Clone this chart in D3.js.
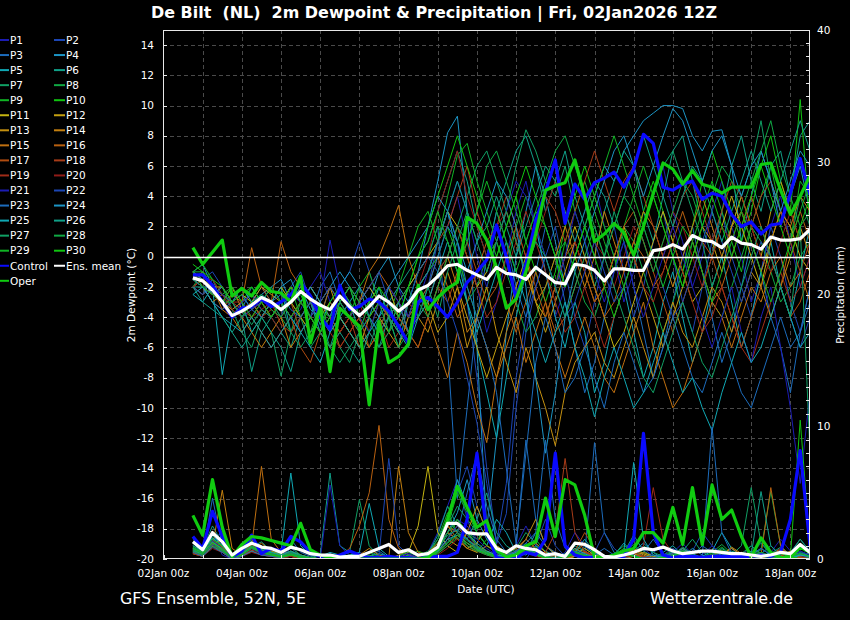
<!DOCTYPE html>
<html><head><meta charset="utf-8">
<script src="https://cdn.jsdelivr.net/npm/d3@7"></script>
<style>
body{margin:0;background:#000;}
svg{display:block;background:#000;}
text{font-family:"DejaVu Sans",sans-serif;fill:#fff;white-space:pre;}
</style>
</head><body>
<svg id="chart" width="850" height="620"></svg>
<script>
// ---------------- DATA ----------------
const titleText = "De Bilt  (NL)  2m Dewpoint & Precipitation | Fri, 02Jan2026 12Z";
const firstTime = "2026-01-02T18:00:00Z";
const stepHours = 6;
const xDomain = ["2026-01-02T00:00:00Z", "2026-01-18T12:00:00Z"];
const xTickDates = ["2026-01-02","2026-01-04","2026-01-06","2026-01-08","2026-01-10","2026-01-12","2026-01-14","2026-01-16","2026-01-18"];
const xTickLabels = ["02Jan 00z","04Jan 00z","06Jan 00z","08Jan 00z","10Jan 00z","12Jan 00z","14Jan 00z","16Jan 00z","18Jan 00z"];
const leftTicks = [-20,-18,-16,-14,-12,-10,-8,-6,-4,-2,0,2,4,6,8,10,12,14];
const rightTicks = [0,10,20,30,40];

const memberNames = ["P1","P2","P3","P4","P5","P6","P7","P8","P9","P10","P11","P12","P13","P14","P15","P16","P17","P18","P19","P20","P21","P22","P23","P24","P25","P26","P27","P28","P29","P30"];
const memberColors = ["#1c1cb4","#1c46b4","#1c6cbc","#1c94c4","#10a8b4","#10a088","#10a064","#10a844","#10b424","#10c410",
  "#c4b410","#c4a010","#c49010","#c48010","#c07010","#b86010","#b04c10","#a83c18","#a02c18","#901c18",
  "#1c1cb4","#1c46b4","#1c6cbc","#1c94c4","#10a8b4","#10a088","#10a064","#10a844","#10b424","#10c410"];

const controlDewpoint = [-1.2,-1.2,-1.9,-3.0,-4.0,-3.4,-3.3,-2.8, -3.3,-3.0,-2.5,-1.7,-2.6,-4.0,-4.8,-1.9, -3.5,-3.3,-2.8,-3.0,-3.6,-4.6,-5.7,-3.0, -2.7,-3.3,-4.0,-3.0,-1.7,-1.0,-0.2,2.1, 0.0,-2.8,-0.5,2.4,4.3,6.4,2.2,4.8, 3.8,4.9,5.2,5.6,4.6,5.8,8.1,7.5, 4.6,4.4,4.8,5.0,3.8,4.2,4.0,2.8, 2.0,2.3,1.5,2.1,2.2,4.2,6.5,4.1];
const operDewpoint = [0.6,-0.5,0.3,1.1,-2.6,-2.1,-2.6,-1.7, -2.3,-2.4,-3.0,-1.3,-5.7,-3.3,-7.6,-3.4, -4.0,-4.6,-9.8,-4.3,-7.0,-6.6,-5.8,-1.9, -3.5,-2.7,-2.1,-1.7,2.6,2.2,1.1,-0.7, -3.4,-2.8,-1.0,1.5,4.4,4.7,4.9,6.4, 4.0,1.0,1.5,2.2,1.6,0.1,2.0,4.2, 6.2,5.8,4.8,5.7,4.8,4.6,4.2,4.6, 4.6,4.6,6.1,6.2,4.4,2.8,4.0,5.4];
const meanDewpoint = [-1.4,-1.6,-2.2,-3.0,-3.9,-3.6,-3.2,-2.7, -3.0,-3.5,-3.0,-2.3,-2.8,-3.2,-3.5,-2.6, -3.3,-3.9,-3.3,-2.6,-3.0,-3.6,-3.1,-2.2, -1.9,-1.3,-0.6,-0.5,-0.9,-1.2,-1.5,-0.7, -1.1,-1.2,-1.5,-0.7,-1.2,-1.7,-1.8,-0.5, -0.6,-0.9,-1.6,-0.8,-0.8,-0.9,-0.9,0.4, 0.5,0.8,0.5,1.4,1.1,1.0,0.6,1.3, 0.9,0.8,0.5,1.3,1.1,1.1,1.2,1.8];

const controlPrecip = [1.7,0.8,3.6,1.7,0.15,0.6,1.8,0.4, 0.8,0.6,1.7,1.3,0.5,0.2,0.1,0.3, 0.6,0.3,0.1,0.1,0.2,0.1,0.1,0, 0.1,0.2,0.2,0.5,3.0,8.0,2.0,0.1, 0,0.1,0.5,0.3,1.5,8.0,1.0,0.3, 0.1,0.1,0.1,0.1,0.2,1.5,9.5,2.0, 0.3,0.1,0.2,0.2,0.1,0.2,0.2,0.2, 0.2,0.2,0.3,0.2,0.5,3.0,8.2,1.0];
const operPrecip = [3.3,1.8,6.0,2.4,0.15,1.1,1.7,1.6, 1.4,1.2,1.0,2.7,0.7,0.3,0.1,0, 0,0,0,0,0,0,0,0, 0.1,0.8,3.0,5.5,3.9,2.4,2.9,0.7, 0.15,0.3,1.0,1.3,4.6,1.7,6.0,5.6, 3.3,0.15,0.1,0.3,0.6,0.8,2.0,2.0, 1.2,3.9,1.1,5.4,1.1,5.6,3.0,3.7, 1.7,0.15,1.6,0.5,0.1,0.1,0.9,0.5];
const meanPrecip = [1.3,0.7,2.0,1.3,0.3,0.8,1.2,0.9, 0.8,0.5,0.9,0.7,0.4,0.3,0.3,0.15, 0.2,0.2,0.5,0.8,1.1,0.5,0.7,0.3, 0.4,0.9,2.7,2.7,2.0,1.9,1.9,0.8, 0.5,1.0,0.8,0.7,0.3,0.4,0.2,1.2, 1.1,0.7,0.2,0.15,0.3,0.5,0.8,0.7, 0.9,0.6,0.4,0.5,0.6,0.6,0.5,0.4, 0.4,0.3,0.2,0.3,0.5,0.4,1.1,0.5];

const pertDewpoint = [
[-1.5,-1,-2,-2.5,-3.5,-3,-2.5,-3, -2,-3,-4,-3.5,-2,-1,-3,-4, -3,-2,-4,-5,-3,-2,-4,-3, -1,0,2,4,1,-2,-5,-3, 0,3,5,2,-1,-4,-2,1, 3,5,2,0,-3,-1,2,4, 6,3,1,-2,0,3,5,2, 0,-3,-1,2,4,1,-2,0],
[-2,-1.5,-1,-2,-3,-4,-3,-2, -3,-4,-2,-1,-3,-5,-4,-2, -1,1,-1,-3,-2,-4,-5,-3, -2,1,3,1,-3,-8,-14,-19, -15,-8,-4,-2,0,2,-1,-4, -6,-3,0,2,-1,-4,-2,1, 3,0,-3,-5,-2,1,3,0, -2,-4,-1,2,0,-3,-5,-2],
[-2,-2.5,-1.5,-3,-4,-3.5,-2,-3, -4,-3,-2,-3,-4,-2,-1,-3, -4,-3,-2,-3,-5,-4,-2,-1, 0,2,-6,-16,-10,-4,0,3, 1,-2,-4,-1,2,0,-3,-6, -9,-7,-4,-1,1,-2,-5,-8, -6,-3,0,2,-1,-4,-7,-5, -2,1,-1,-4,-6,-9,-5,-2],
[-1,-0.5,-2,-2.5,-3,-2.5,-3.5,-2.5, -2,-1.5,-3,-2,-3.5,-4,-2,-1, -2,-4,-3,-1,0,-2,-3,-1, 2,5,8.2,9.3,3,-6,-18,-12, -5,0,3,6,4,1,-2,0, 2,4,6,5,7,8,9,9.5, 10,10,9.8,8,7,8.3,8.4,6, 1,4,7,5,2,4,6,3],
[-2.5,-3,-2,-7.8,-4,-3,-5,-4, -3,-2,-5,-4,-3,-4.5,-3,-2, -3,-5,-4,-2,-4,-6,-3,-2, -1,1,3,0,-3,-6,-9,-12, -8,-4,-1,2,-1,-4,-6,-3, -5,-9,-7,-4,-2,-5,-8,-6, -3,-1,-4,-7,-5,-2,0,-3, -6,-4,-1,1,-2,-4,-1,2],
[-2,-2,-3,-4,-5,-4,-7.6,-5, -4,-5,-6,-4,-3,-5,-6,-4, -3,-2,-4,-5,-3,-2,-1,0, 1,3,5,7,5,2,0,3, 5,7,8,6,3,5,7,4, 2,0,3,5,7,6,3,1, 4,7,8,5,2,0,3,6, 8,5,3,6,7,4,8,9],
[-1.5,-2,-2.5,-3,-3.5,-5,-6,-4, -5,-7.9,-5,-4,-6,-5,-4,-6, -7,-5,-6,-4,-5,-3,-4,-2, -3,-1,0,2,4,6,7,5, 3,6,8.4,7,5,4,6,3, 1,-2,0,3,1,-1,2,4, 6,7,5,3,1,-2,0,2, 4,6,9,5,3,1,4,2],
[-2,-1,-2.5,-2,-3.5,-4,-3,-4, -3,-4,-5,-3,-2,-3,-5,-4, -5,-6,-4,-3,-4,-5,-3,-1, 0,2,1,-1,-3,-2,0,1, -1,-3,-5,-4,-2,0,1,-1, -3,-4,-2,0,2,1,-1,-3, -5,-3,-1,1,-1,-3,-4,-2, 0,2,1,-1,-3,-2,0,1],
[-1,-0.5,-1.5,-2.5,-2,-3,-2,-3, -4,-3,-2,-4,-5,-3,-2,-3, -4,-2,-1,-3,-4,-2,0,2, 3,1,4,6.7,7.5,5,3,1, -1,2,4,2,0,-2,1,3, 5,3,1,-1,2,4,6,4, 2,0,-2,1,3,5,3,1, -1,2,4,6,3,1,5,4],
[-1.5,-1,-2,-3,-2.5,-2,-3,-4, -3,-2,-3,-4,-3,-4,-5,-3, -2,-4,-5,-3,-2,-4,-3,-2, -1,0,2,0,-2,-4,-2,0, 2,4,1,-1,-3,-1,2,4, 6,4,2,0,-2,0,3,5, 3,1,-1,2,5,7,5,3, 1,3,6,8,5,3,10.4,2],
[-1,-1.5,-2,-2,-3,-2.5,-3,-2, -2.5,-3,-4,-3,-2,-3,-4,-5, -4,-3,-2,-3,-4,-3,-2,-1, 0,1,3,2,0,-2,-1,1, 3,1,-1,-3,-4,-2,0,2, 0,-2,-4,-6,-5,-3,-1,1, 3,1,-1,-3,-2,0,2,4, 2,0,-2,1,3,2,0,-1],
[-1.5,-2,-2.5,-3,-2,-3.5,-3,-4, -3,-2,-3,-4,-5,-4,-3,-4, -5,-4,-3,-4,-5,-6,-4,-2, -3,-5,-4,-2,-4,-6,-8,-6, -4,-2,0,-3,-5,-3,-1,1, -1,-3,-2,0,2,0,-2,-4, -6,-4,-2,0,2,1,-1,2, 4,2,0,3,5,3,1,2],
[-2,-1.5,-2,-3,-3.5,-3,-2.5,-3.5, -4,-3,-2,-3,-4,-3,-2,-4, -5,-6,-4,-3,-2,-4,-5,-4, -5,-3,-1,-3,-6,-4,-2,-5, -7,-9,-6,-8,-10,-12.5,-9,-7, -6,-5,-7,-8,-6,-4,-6,-8, -5,-3,-5,-6,-4,-2,-3,-5, -3,-1,-2,-4,-2,0,2,0],
[-1,-2,-3,-2.5,-3,-4,-5,-6, -5,-4,-6,-5,-4,-5,-6,-5, -4,-5,-6,-5,-4,-3,-5,-6, -4,-2,0,-2,-5,-4,-6,-8, -5,-3,-1,-3,-2,0,2,0, -2,0,3,1,-1,1,3,2, 0,-2,0,2,4,2,0,2, 3,1,-1,1,3,2,4,3],
[-2,-2.5,-2,-3.5,-4,-5,-4,-3, -4,-3,-2,-3,-4,-5,-4,-3, -2,-3,-1,0,1.6,3.4,0,-2, -4,-6,-8,-5,-7,-10,-12.3,-8, -6,-4,-7,-5,-3,-6,-8,-6, -4,-6,-8,-9,-7,-5,-3,-6, -8,-10,-9,-7,-5,-3,-4,-6, -4,-2,-3,-1,0,-2,-1,-3],
[-1.5,-2,-3,-3.5,-2.5,-3,0.6,-2, -3,1.0,-1,-2,-3,-4,-2,-3, -4,-3,-2,-1,-2,-3,-4,-3, -2,0,-2,-4,-3,-1,1,-1, -3,-5,-3,-1,-3,-5,-4,-2, 0,-2,-4,-3,-1,1,0,-2, -1,1,3,1,-1,-3,-2,0, 2,4,2,0,-2,1,3,1],
[-2,-1.5,-2.5,-3,-4,-3.5,-4,-5, -6,-5,-4,-6,-7,-5,-4,-6, -5,-4,-6,-5,-3,-4,-5,-6, -4,-2,-3,-1,1,-1,-3,-2, 0,2,0,-2,-4,-2,0,1, -1,-3,-2,0,2,3,1,-1, -3,-5,-3,-1,1,0,-2,-4, -6,-4,-2,0,-2,-4,-3,-1],
[-1.5,-1,-2,-2.5,-3,-3.5,-3,-4, -3.5,-4,-3,-5,-4,-3,-4,-5, -4,-6,-5,-3,-4,-5,-3,-2, -1,1,2,4,6,3,1,2, 4,2,0,2,4,3,1,3, 5,7,5,3,5,6,4,2, 0,2,4,5,3,1,3,5, 4,2,4,5,3,1,-1,1],
[-1,-1.5,-2.5,-2,-3,-3,-4,-3.5, -3,-4.5,-5,-4,-3,-4,-5,-6, -5,-4,-3,-4,-6,-5,-3,-4, -3,-1,0,2,0,-2,-4,-3, -1,1,3,1,-1,-3,-5,-4, -2,-4,-6,-4,-2,0,-2,-3, -1,1,-1,-3,-5,-4,-2,-4, -6,-7,-5,-3,-1,-3,-2,0],
[-2,-1.5,-1.5,-2.5,-3.5,-4,-3.5,-3, -4,-5,-4,-3,-4,-5,-6,-5, -4,-3,-5,-6,-5,-4,-3,-2, 0,3,5,7,4,2,0,2, 3,1,-1,1,3,5,3,1, -1,1,0,-2,0,2,1,-1, 1,3,2,0,-2,0,2,1, 3,2,0,-1,1,3,1,2],
[-1.5,-2,-2,-3,-4,-3,-2.5,-3.5, -4,-3,-2.5,-3,-4,-3,1.1,-2, -3,-4,-5,-3,-2,-3,-4,-2, -1,1,3,5,3,0,-2,1, 3,5,4,2,0,-2,0,3, 1,-1,-3,-1,1,-2,-4,-2, 0,2,0,-2,-4,-6,-4,-2, -5,-7,-4,-2,-6,-10,-15,-9],
[-2,-2.5,-2,-2.5,-3,-4,-3.5,-3, -2,-3,-4,-5,-4,-3,-2,-3, -4,-3,-2,-1,-3,-4,-3,-1, 0,-1,-3,-5,-8,-11,-15,-19, -17,-10,-5,-2,0,-2,-4,-3, -1,1,-1,-3,-2,0,2,0, -2,-4,-3,-1,1,3,1,-1, -3,-1,1,0,-2,-4,-6,-4],
[-1.5,-2,-3,-3.5,-3,-2.5,-3.5,-4, -3,-2.5,-3.5,-4,-3,-4,-5,-3, -2,-3,-4,-5,-4,-3,-5,-4, -2,0,2,1,-2,-4,-6,-9, -14,-19,-13,-7,-4,-6,-9,-8, -6,-8,-10,-7,-5,-7,-9,-8, -6,-4,-6,-8,-9,-7,-5,-7, -9,-10,-8,-6,-4,-6,-5,-3],
[-1,-1.5,-2.5,-2,-3,-2,-3,-2.5, -3,-2,-1.5,-3,-2,-3,-4,-2, -1,-2,-3,-4,-2,-1,0,1, 2,4,3,1,-1,1,3,5, 4,2,-2,-8,-13,-9,-4,-1, 1,3,5,7,8,6,4,6, 8,9.8,9,7,5,7,8,6, 4,6,7,5,3,5,7,6],
[-2.5,-2,-3,-4,-4.5,-5,-4,-5, -6,-5,-4,-5,-6,-7,-5,-4, -5,-6,-5,-4,-3,-5,-6,-4, -3,-1,1,-1,-3,-5,-3,-1, 1,-1,-3,-5,-7,-5,-3,-6, -8,-10.6,-8,-6,-8,-10,-9,-7, -5,-7,-9,-8,-10,-11.5,-9,-7, -5,-7,-6,-4,-2,-4,-6,-5],
[-2,-3,-3.5,-4,-5,-6,-5,-4, -5,-6,-7.6,-5,-4,-5,-6,-5, -6,-7,-5,-6,-4,-5,-3,-2, -1,1,3,5,3,1,2,4, 2,0,2,4,6,5,3,1, 3,5,4,2,4,6,8,6, 4,2,4,6,5,3,1,3, 5,7,5,3,5,7,9,7],
[-1.5,-2,-2,-3,-4,-3.5,-4.5,-3.5, -4,-3,-5,-6,-5,-4,-6,-7, -6,-5,-4,-6,-5,-3,-2,-4, -2,-4,-1,1,3,1,-1,1, 3,1,-1,1,0,-2,-4,-2, 0,2,0,-2,-4,-6,-8,-9, -7,-5,-3,-5,-7,-8,-6,-4, -2,0,2,0,-2,-4,2,-13],
[-1,-1,-2,-3,-3,-4,-3,-2.5, -3.5,-4,-3,-2.5,-4,-5,-4,-3, -4,-5,-3,-2,-4,-6,-5,-3, -4,-2,0,2,1,3,6,7, 5,3,1,3,5,7,8,6, 4,2,0,2,4,3,1,-1, 1,3,5,4,2,4,6,5, 3,5,7,9,6,4,2,3],
[-1,-2,-2.5,-3,-2,-3,-4,-3, -2,-3,-4,-3,-2.5,-3.5,-4,-3, -2,-3,-4,-3,-5,-4,-2,0, 1,3,1,-1,1,3,5,3, 1,-1,1,3,2,0,-2,0, 2,4,6,8,6,4,2,0, -2,0,2,1,-1,-3,-1,1, 3,1,-1,-3,-1,1,3,5],
[-0.5,-1,-1.5,-2,-3,-2.5,-2,-3, -4,-3,-2,-3,-4,-5,-3,-2, -3,-4,-3,-2,-3,-4,-2,0, 2,4,6,8,6,4,2,0, 2,4,6,4,2,0,-2,0, 2,0,-2,-4,-2,0,2,4, 2,0,-2,0,2,4,2,0, 2,4,6,4,2,0,2,4]
];

const pertPrecip = [
[0.5,1,2,0.3,0,0.5,1,0.4, 0.2,0.6,0.3,0.1,0,0,0.2,0, 0,0,0.3,0,0,0.2,0,0, 0.5,2,4,6,3,1,0.5,0, 0.2,1,2.5,1,0.3,0,0.5,2, 1,0.2,0,0,0.3,1.5,0.8,0.2, 0,0.5,1.2,0.3,0,0,0.2,0.8, 0.3,0,0,0.5,1.5,0.6,0.2,0],
[1,0.5,1.5,2,0.2,0.3,0.8,0.5, 0.4,0.2,0.8,0.3,0.1,0,0,0, 0.2,0.5,0.2,0,0,0,0.3,0, 0,1,3,5,7,4,2,1, 0.5,0.2,0,1,3,1,0.2,0, 0,0.5,2,0.8,0.2,0,0,0.5, 1,0.3,0,0.6,2,1,0.2,0, 0,0.4,1.2,0.5,0,0,0.3,0.8],
[0.8,0.2,4.6,1,0,0.5,1.2,0.6, 0.3,0.8,1.5,0.5,0.2,0,0.4,0.1, 0,0,0.2,0.6,0.1,0,0,0, 0.5,1.5,3,2,5,8,4,1.5, 0.5,1,9,3,1,0.5,0.2,0, 0.3,8.8,2,0.5,0,0,0.5,1.5, 0.4,0,0,0.3,1,0.5,0,0, 0.2,1,0.4,0,0,0.5,1.5,0.6],
[1.2,0.5,1,1.8,0.3,0.2,0.6,1, 0.5,0.3,0.4,0.2,0,0,0,0, 0,0,0,0,0,0.1,0,0, 0.2,0.8,2,3.5,6,3,1.5,0.5, 0,0,0.5,2,1,0.3,0,0.2, 1,0.4,0,0,0.2,0.6,1.2,0.5, 0,0,0.2,0.8,0.3,0,0,0, 0.2,0.6,0.1,0,0,0,0.4,0.2],
[0.6,0.3,1.8,1,0.1,0.8,1.5,0.9, 0.4,0.5,6.5,1,0.3,0.2,0.5,0.3, 0.1,0,0.2,0.4,0.2,0,0.3,0.1, 0.5,1,3,6,4,2,1,3, 2,0.5,0.3,1,0.6,0.2,0,0.5, 1.5,0.5,0,0.3,1.2,0.4,0,0, 0.5,1,0.3,0,0.2,0.6,2,0.8, 0.2,0,0.4,1,0.3,0,0.2,0.5],
[1.5,0.8,2.5,1.2,0.2,0.4,0.9,1.3, 0.6,0.3,0.5,0.2,0.1,0.3,6.5,1, 0.5,0.3,0.1,0,0,0.2,0.5,0.2, 0.4,1.8,4,2.5,1.5,3,5,2, 1,0.5,1.5,0.8,0.3,0.1,0.4,1, 0.6,0.2,0.1,0,0.5,1.8,0.6,0.2, 0,0.3,0.9,0.4,0.1,0,0.2,0.6, 0.3,0,0,0.4,0.9,0.3,0,0.1],
[0.8,0.4,1.2,0.6,0,0.3,1.1,0.7, 0.5,0.2,0.3,0.1,0,0,0.3,0.2, 0.5,4.5,1,0.2,0,0,0,0.2, 0.6,1.2,2.5,4,3,2,1,0.5, 0.3,0.8,2,1.2,0.5,0.2,0.1,0, 0.2,0.5,0.3,0,0,0.4,1,0.5, 0.2,0,0.6,1.5,0.5,0.2,0,0.3, 1,5.4,1.2,0.3,0,0.5,1.2,0.4],
[1,0.6,2,1.4,0.3,0.6,1.4,0.8, 0.6,0.4,0.9,0.3,0.1,0,0.1,0, 0,0.1,0.3,0.1,0,0,0,0, 0.2,0.6,1.5,3,2,1.5,2,1, 0.5,0.3,0.8,1.5,0.5,0.2,0,0.3, 0.8,0.3,0.1,0.4,1,0.6,0.2,0, 0.3,0.6,0.2,0,0.1,0.5,1.1,0.4, 0.1,0.2,0.7,5.1,1,0.2,0,0.3],
[0.5,0.2,1.5,1,0.2,0.3,1,0.5, 0.4,0.3,0.5,0.1,0,0,0,0, 0,0.2,0.5,0.2,0,0,0.3,0.6, 0.3,1.5,3.5,2,1,0.5,1.5,0.8, 0.4,0.2,0.5,0.9,0.3,0,0.2,0.6, 0.3,0,0,0.2,0.5,1.1,0.4,0.1, 0,0.2,0.5,0.2,0,0.4,0.9,0.3, 0,0.2,0.5,0.2,0,0.3,0.6,0.2],
[0.7,0.3,1.6,0.9,0,0.4,1.2,0.6, 0.3,0.2,0.4,0.2,0.1,0,0,0, 0,0,0.2,0.1,0,0,0.2,0.1, 0.4,1.2,2.5,5,3.5,2,1,0.5, 0.3,0.5,1,0.4,0.1,0,0.3,0.7, 0.3,0.1,0,0.3,0.8,0.3,0,0, 0.2,0.5,0.2,0,0,0.3,0.7,0.2, 0,0.3,0.8,0.3,0,0.2,10.5,1],
[0.4,0.2,1,0.5,0,0.2,0.6,0.3, 0.2,0.1,0.2,0,0,0,0,0, 0,0,0,0,0,0,0.5,2.5, 7,2,1,0.5,2,1,0.4,0.2, 0,0.3,0.8,0.3,0,0,0,0.2, 0.5,0.2,0,0,0.2,0.4,0.1,0, 0,0.1,0.3,0.1,0,0,0.2,0.4, 0.1,0,0,0.2,0.5,0.2,0,0],
[0.6,0.4,1.3,0.8,0.1,0.3,0.9,0.5, 0.3,0.2,0.4,0.1,0,0,0,0.1, 0.2,0,0,0.1,0,0.3,0.6,0.2, 0.5,1,2,1.5,0.8,1.2,2.5,1, 0.4,0.2,0.6,0.3,0.1,0,0.1,0.3, 0.8,0.3,0.1,0,0,0.2,0.5,0.2, 0.1,0.3,0.8,0.3,0,0,0.1,0.3, 0.5,0.2,0,0,0.2,0.6,0.3,0.1],
[0.8,0.5,1.1,1.5,0.2,0.5,1.3,0.7, 0.4,0.3,0.6,0.3,0.1,0,0,0, 0,0.1,0.2,0,0,0,0,0, 0.2,0.6,1.5,1,2,4,2,1, 0.5,0.8,1.5,3,1,0.4,0.2,0.5, 1.2,0.5,0.2,0,0.3,0.8,0.4,0.1, 0,0.2,0.6,0.3,0.1,0,0.3,0.9, 0.4,0.1,0,0.2,0.6,0.3,0.1,0],
[0.5,0.3,0.9,5.2,0.8,0.3,0.6,1.2, 0.6,0.3,0.5,0.2,0,0,0,0, 0.1,0.3,0.8,0.3,0.1,7,2,0.5, 0.3,1,2.5,1.5,0.8,0.5,1,0.6, 0.3,0.2,0.5,1.2,0.5,0.2,0,0.2, 0.6,0.2,0,0,0.2,0.7,0.3,0, 0,0.2,0.5,0.2,0,0,0.3,0.8, 0.3,0,0,0.3,0.7,0.3,0.1,0],
[0.6,0.4,1.5,0.7,0.1,0.4,1,7, 1.5,0.5,0.3,0.1,0,0,0,0, 0,0,0.1,0,0,0,0.1,0, 0.2,0.8,2,3,2,1,0.6,0.3, 0.2,0.4,1,0.5,0.2,0,0.1,0.4, 0.2,0,0,0.1,0.4,0.2,0,0, 0.1,0.3,0.1,0,0,0.2,0.5,0.2, 0,0.1,0.3,0.1,0,0.2,0.4,0.1],
[0.4,0.8,1.2,0.6,0.2,0.5,0.9,0.4, 0.3,0.2,0.4,0.2,0,0,0,0.2, 0.8,2.5,5,10.1,3,0.8,0.3,0.1, 0.5,1.2,2.5,2,1.2,0.8,0.5,0.3, 0.2,0.5,1,0.4,0.1,0,0.3,0.8, 0.4,0.1,0,0.2,0.6,0.3,0.1,0, 0.2,0.4,0.1,0,0,0.3,0.6,0.2, 0.1,0,0.3,5.4,1,0.2,0,0.1],
[0.7,0.5,1.4,0.9,0.2,0.4,1.1,0.6, 0.4,0.3,0.5,0.2,0.1,0,0,0, 0,0,0,0,0.1,0,0,0, 0.3,0.8,2,1.5,1,0.6,0.4,0.2, 0.3,0.6,1.5,0.8,0.3,0.1,0.2,0.6, 2,0.8,0.2,0,0.1,0.3,0.2,0, 0.1,0.3,0.8,0.3,0.1,0,0.2,0.5, 0.2,0,0.1,0.3,0.8,0.3,0.1,0],
[0.5,0.3,1.2,0.7,0.1,0.3,0.8,0.5, 0.3,0.1,0.3,0.1,0,0,0,0, 0,0,0,0,0,0,0,0, 0.2,0.5,1.5,2.5,1.5,1,0.5,0.3, 0.2,0.4,0.8,0.3,0.5,2,7.6,2, 0.5,0.2,0,0,0.2,0.5,0.2,0, 0,0.2,0.6,0.2,0,0,0.1,0.3, 0.5,0.2,0,0,0.2,0.5,0.2,0],
[0.6,0.3,1,0.6,0,0.3,0.7,0.4, 0.2,0.1,0.2,0.1,0,0,0,0, 0,0,0,0,0,0,0,0, 0.1,0.4,1,1.8,1.2,0.8,0.5,0.2, 0.1,0.3,0.6,0.3,0.1,0,0.1,0.3, 0.6,0.2,0,0,0.1,0.3,1,5.4, 1.5,0.4,0.1,0,0.1,0.3,0.2,0, 0,0.2,0.5,0.2,0,0.1,0.3,0.1],
[0.4,0.2,0.8,0.5,0,0.2,0.5,0.3, 0.2,0.1,0.2,0,0,0,0,0, 0,0,0,0,0,0,0,0, 0.1,0.3,0.8,1.5,1,0.6,0.3,0.1, 0,0.2,0.5,0.2,0,0,0.2,0.5, 0.3,0,0,0.1,0.3,0.2,0,0, 0,0.2,0.4,0.1,0,0,0.2,0.4, 0.2,0,0,0.1,0.4,0.2,0,0],
[0.9,0.4,1.4,0.8,0.1,0.5,1.2,0.6, 0.4,0.2,0.5,0.2,0,0,5.6,1, 0.3,0.1,0.2,0,0,0.2,0.4,0.1, 0.3,1,2,3,2.5,1.5,0.8,0.3, 0.2,0.5,1.2,0.6,0.2,0,0.2,0.6, 0.4,0.1,0,0.2,0.6,0.3,0,0, 0.2,0.5,0.2,0,0.3,1,0.4,0.1, 0,0.3,0.8,0.3,0,0.2,0.6,0.3],
[0.7,0.3,1.1,0.6,0.1,0.3,0.8,0.4, 0.3,0.2,0.4,0.1,0,0,0,0, 0,0,0.1,0.3,7.6,1,0.3,0, 0.2,0.6,1.5,2.5,1.8,1,0.5,0.2, 0.1,0.3,0.8,0.4,0.1,0,0.1,0.4, 0.3,0,0,0.1,0.4,0.2,0,0.1, 0.3,0.8,0.3,0.1,0,0.2,0.5,0.2, 0,0.1,0.4,0.2,0,0.1,0.3,0.1],
[0.5,0.2,0.9,0.5,0,0.2,0.6,0.3, 0.2,0.1,0.3,0.1,0,0,0,0, 0,0,0,0,0,0,0,0, 0.1,0.5,1.2,2,1.5,0.8,0.4,0.2, 0.3,0.6,1.2,2,9,3,0.8,0.2, 0.1,0.3,0.8,0.3,0.1,0,0.1,0.3, 0.2,0.4,0.2,0,0.2,10,2,0.4, 0.1,0.3,0.8,0.3,0,0.2,0.5,0.2],
[0.6,0.4,1.3,0.7,0.1,0.4,0.9,0.5, 0.3,0.2,0.4,0.2,0,0,0,0, 0,0,0,0,0,0,0,0, 0.2,0.6,1.5,1.8,1.2,0.7,0.4,0.2, 0.1,0.3,0.7,0.3,0.1,0,0.2,0.5, 0.3,0.1,0,0.2,0.5,0.2,0,0, 0.1,0.3,0.6,0.2,0,0.1,0.4,0.2, 0,0.2,0.5,0.2,0,0.1,0.3,0.2],
[0.8,0.5,1.6,1,0.2,0.5,1.2,0.7, 0.5,0.3,0.6,0.2,0.1,0,0.3,0.2, 0.3,0.5,4.2,0.8,0.2,0,0,0, 0.3,0.8,2,3,2,1.2,0.6,0.3, 0.2,0.5,1,0.5,0.2,0.1,0.3,0.8, 0.4,0.1,0,0.2,0.6,7.3,1.5,0.3, 0.1,0.3,0.8,0.3,0.1,0,0.2,0.5, 0.2,0,0.2,0.5,0.2,0,0.3,0.2],
[1,0.6,1.8,1.2,0.2,0.6,1.3,0.8, 0.5,0.3,0.6,0.3,0.1,0,0.1,0, 0,0,0,0.2,0.1,0,0,0, 0.2,0.7,1.8,2.2,1.5,0.9,0.5,0.2, 0.1,0.4,0.9,0.4,0.1,0,0.2,0.6, 0.3,0.1,0,0.2,0.5,0.3,0,0, 0.2,0.5,0.2,0,0,0.3,0.8,0.3, 0.1,0.3,5.1,1,0.2,0.1,0.4,0.2],
[0.7,0.4,1.3,0.8,0.1,0.4,1,0.6, 0.4,0.2,0.5,0.2,0,0,0,0, 0,0,0,0,0,0,0,0, 0.1,0.5,1.3,2,1.4,0.8,0.4,0.2, 0.1,0.3,0.8,0.3,0.1,0,0.2,0.5, 0.3,0.1,0,0.2,0.5,0.2,0,0, 0.1,0.3,0.7,0.3,0,0.1,0.3,0.2, 0.4,1,0.3,0,0.1,0.4,1.5,0.5],
[0.6,0.3,1,0.6,0.1,0.3,0.8,0.5, 0.3,0.1,0.3,0.1,0,0,0,0, 0,0,0,0,0,0,0,0, 0.1,0.4,1,1.6,1,0.6,0.3,0.1, 0,0.2,0.6,0.3,0.1,0,0.1,0.4, 0.2,0,0,0.1,0.4,0.2,0,0, 0.1,0.2,0.5,0.2,0,0,0.2,0.5, 0.2,0,0,0.2,0.5,0.2,0,0.1],
[0.9,0.5,1.5,1,0.2,0.5,1.2,0.6, 0.4,0.2,0.4,0.2,0.1,0,0,0, 0,0,0,0,0,0.2,0.6,0.3, 0.2,0.8,2,3,2,1,0.5,0.2, 0.1,0.4,1,0.5,0.2,0,0.2,0.5, 0.3,0.1,0,0.2,0.5,0.2,0,0, 0.1,0.3,0.6,0.2,0,0.2,0.6,0.2, 0,0.2,0.5,0.2,0,0.2,0.4,0.2],
[0.8,0.4,1.2,0.7,0.1,0.3,0.9,0.5, 0.3,0.2,0.3,0.1,0,0,0,0, 0,0,0,0,0,0,0,0, 0.1,0.5,1.2,1.8,1.2,0.7,0.4,0.2, 0.1,0.3,0.7,0.3,0.1,0,0.1,0.4, 0.2,0,0,0.1,0.4,0.2,0,0, 0.1,0.2,0.5,0.2,0,0,0.2,0.4, 0.2,0,0,0.1,0.4,0.2,0,0]
];

// ---------------- CHART ----------------
const svg = d3.select("#chart");
const W = 850, H = 620;
const plot = {left:163, right:810, top:30, bottom:559};

const t0 = new Date(firstTime).getTime();
const times = controlDewpoint.map((_, i) => new Date(t0 + i * stepHours * 3600e3));

const x = d3.scaleUtc().domain(xDomain.map(d => new Date(d))).range([plot.left + 0.5, plot.right]);
const yL = d3.scaleLinear().domain([-20, 15]).range([plot.bottom, plot.top]);
const yR = d3.scaleLinear().domain([0, 40]).range([plot.bottom, plot.top]);

svg.append("rect").attr("width", W).attr("height", H).attr("fill", "#000");

svg.append("defs").append("clipPath").attr("id", "clip")
  .append("rect").attr("x", plot.left).attr("y", plot.top)
  .attr("width", plot.right - plot.left).attr("height", plot.bottom - plot.top);

// grid
const gridColor = "#4a4a4a";
const grid = svg.append("g");
const days = d3.utcDay.range(new Date(xDomain[0]), new Date(xDomain[1]));
grid.selectAll("line.v").data(days.slice(1)).join("line")
  .attr("x1", d => Math.round(x(d)) + 0.5).attr("x2", d => Math.round(x(d)) + 0.5)
  .attr("y1", plot.top).attr("y2", plot.bottom)
  .attr("stroke", gridColor).attr("stroke-width", 1).attr("stroke-dasharray", "4,3");
grid.selectAll("line.h").data(leftTicks.filter(d => d !== 0 && d !== -20)).join("line")
  .attr("x1", plot.left).attr("x2", plot.right)
  .attr("y1", d => Math.round(yL(d)) + 0.5).attr("y2", d => Math.round(yL(d)) + 0.5)
  .attr("stroke", gridColor).attr("stroke-width", 1).attr("stroke-dasharray", "4,3");

const lines = svg.append("g").attr("clip-path", "url(#clip)");
const lineDew = d3.line().x((d, i) => x(times[i])).y(d => yL(d));
const linePre = d3.line().x((d, i) => x(times[i])).y(d => yR(d));

// perturbations
pertDewpoint.forEach((s, k) => {
  lines.append("path").attr("d", lineDew(s)).attr("fill", "none")
    .attr("stroke", memberColors[k]).attr("stroke-width", 1).attr("stroke-linejoin", "round");
});
pertPrecip.forEach((s, k) => {
  lines.append("path").attr("d", linePre(s)).attr("fill", "none")
    .attr("stroke", memberColors[k]).attr("stroke-width", 1).attr("stroke-linejoin", "round");
});

// zero line
svg.append("line").attr("x1", plot.left).attr("x2", plot.right)
  .attr("y1", Math.round(yL(0)) + 0.5).attr("y2", Math.round(yL(0)) + 0.5)
  .attr("stroke", "#ffffff").attr("stroke-width", 1.3);

const thick = [
  {d: controlPrecip, f: linePre, c: "#0a0aff"},
  {d: operPrecip, f: linePre, c: "#10cc10"},
  {d: meanPrecip, f: linePre, c: "#ffffff"},
  {d: controlDewpoint, f: lineDew, c: "#0a0aff"},
  {d: operDewpoint, f: lineDew, c: "#10cc10"},
  {d: meanDewpoint, f: lineDew, c: "#ffffff"}
];
thick.forEach(o => {
  lines.append("path").attr("d", o.f(o.d)).attr("fill", "none")
    .attr("stroke", o.c).attr("stroke-width", 3.2).attr("stroke-linejoin", "round");
});

// frame
svg.append("rect").attr("x", plot.left + 0.5).attr("y", plot.top + 0.5)
  .attr("width", plot.right - plot.left - 1).attr("height", plot.bottom - plot.top - 1)
  .attr("fill", "none").attr("stroke", "#e8e8e8").attr("stroke-width", 1);

// left ticks
const axL = svg.append("g");
axL.selectAll("line").data(leftTicks).join("line")
  .attr("x1", plot.left).attr("x2", plot.left + 4)
  .attr("y1", d => Math.round(yL(d)) + 0.5).attr("y2", d => Math.round(yL(d)) + 0.5)
  .attr("stroke", "#e8e8e8");
axL.selectAll("text").data(leftTicks).join("text")
  .attr("x", 154).attr("y", d => yL(d)).attr("dy", "0.35em")
  .attr("text-anchor", "end").attr("font-size", 10.5).text(d => String(d));

// right ticks
const axR = svg.append("g");
axR.selectAll("line").data(d3.range(0, 41, 1)).join("line")
  .attr("x1", plot.right - 4).attr("x2", plot.right)
  .attr("y1", d => Math.round(yR(d)) + 0.5).attr("y2", d => Math.round(yR(d)) + 0.5)
  .attr("stroke", "#e8e8e8");
axR.selectAll("text").data(rightTicks).join("text")
  .attr("x", 817).attr("y", d => yR(d)).attr("dy", "0.35em")
  .attr("text-anchor", "start").attr("font-size", 10.5).text(d => String(d));

// bottom ticks
const axB = svg.append("g");
axB.selectAll("line").data(days).join("line")
  .attr("x1", d => Math.round(x(d)) + 0.5).attr("x2", d => Math.round(x(d)) + 0.5)
  .attr("y1", plot.bottom - 4).attr("y2", plot.bottom).attr("stroke", "#e8e8e8");
axB.selectAll("text").data(xTickDates).join("text")
  .attr("x", d => x(new Date(d + "T00:00:00Z"))).attr("y", 577).attr("text-anchor", "middle")
  .attr("font-size", 10.5).text((d, i) => xTickLabels[i]);

// axis titles
svg.append("text").attr("x", 486).attr("y", 593).attr("text-anchor", "middle")
  .attr("font-size", 10.5).text("Date (UTC)");
svg.append("text").attr("transform", "translate(135,295) rotate(-90)")
  .attr("text-anchor", "middle").attr("font-size", 10.5).text("2m Dewpoint (°C)");
svg.append("text").attr("transform", "translate(844,295) rotate(-90)")
  .attr("text-anchor", "middle").attr("font-size", 10.5).text("Precipitation (mm)");

// title & footer
svg.append("text").attr("x", 434).attr("y", 18).attr("text-anchor", "middle")
  .attr("font-size", 16).attr("font-weight", "bold").attr("xml:space", "preserve")
  .attr("textLength", 566).attr("lengthAdjust", "spacingAndGlyphs").text(titleText);
svg.append("text").attr("x", 120).attr("y", 604).attr("font-size", 16)
  .attr("textLength", 186).attr("lengthAdjust", "spacingAndGlyphs").text("GFS Ensemble, 52N, 5E");
svg.append("text").attr("x", 650).attr("y", 604).attr("font-size", 16)
  .attr("textLength", 143).attr("lengthAdjust", "spacingAndGlyphs").text("Wetterzentrale.de");

// legend
const legendItems = memberNames.map((n, k) => ({name: n, color: memberColors[k]}))
  .concat([{name: "Control", color: "#0a0aff"}, {name: "Ens. mean", color: "#ffffff"}, {name: "Oper", color: "#10cc10"}]);
const leg = svg.append("g");
legendItems.forEach((it, k) => {
  const col = k % 2, row = Math.floor(k / 2);
  const ly = 40 + row * 15.05;
  const lx0 = col === 0 ? 0 : 54;
  const lx1 = col === 0 ? 9 : 65;
  leg.append("line").attr("x1", lx0).attr("x2", lx1).attr("y1", ly).attr("y2", ly)
    .attr("stroke", it.color).attr("stroke-width", 2);
  leg.append("text").attr("x", lx1 + 1).attr("y", ly).attr("dy", "0.36em")
    .attr("font-size", 10.5).text(it.name);
});
</script>
</body></html>
